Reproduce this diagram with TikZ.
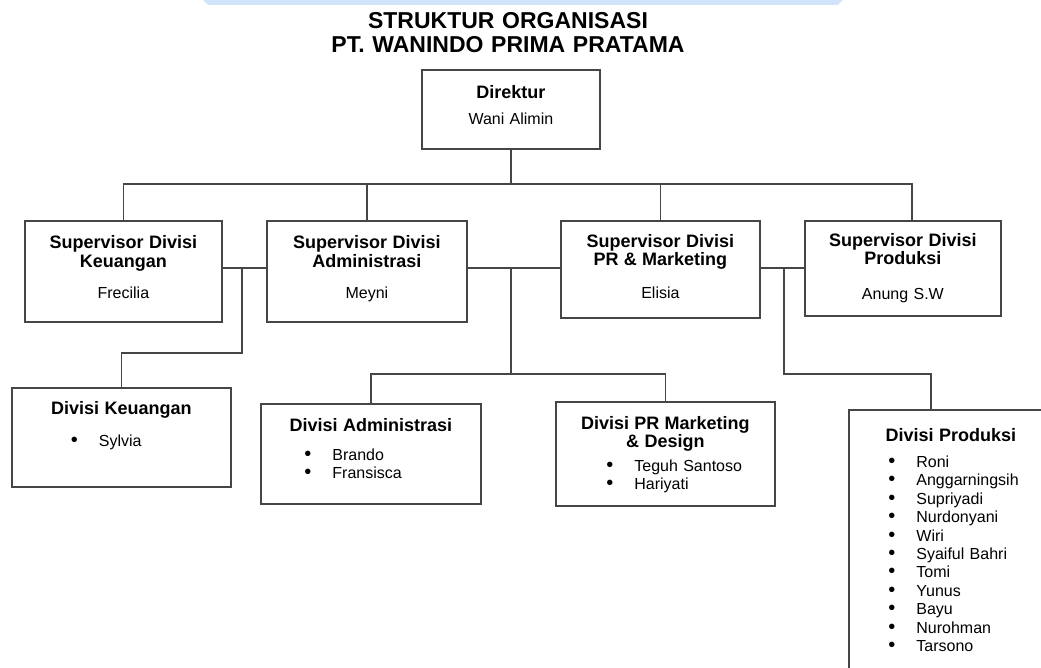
\documentclass[tikz,border=0pt]{standalone}
\usepackage{fontspec}
\setmainfont{Liberation Sans}
\definecolor{garisabu}{RGB}{70,70,70}
\definecolor{pitabiru}{RGB}{210,228,250}
\newcommand{\tebal}{\bfseries\fontsize{9}{9.5}\selectfont}
\newcommand{\butir}[2]{\makebox[\linewidth][l]{\hspace*{#1}\makebox[14pt][l]{\fontsize{10}{9.2}\selectfont\textbullet}#2}}
\tikzset{
  kotak/.style={draw=garisabu,line width=0.9pt,inner sep=0pt,align=center,anchor=north west,font=\fontsize{8}{9.2}\selectfont},
  garis/.style={draw=garisabu,line width=0.9pt},
  judulutama/.style={inner sep=0pt,text width=250pt,align=center,text height=0pt,anchor=north,font=\bfseries\fontsize{11.5}{12}\selectfont}
}
\begin{document}
\begin{tikzpicture}[x=0.5pt,y=-0.5pt]
\useasboundingbox (0,0) rectangle (1041,668);
\clip (0,0) rectangle (1041,668);
\fill[pitabiru] (203,0) -- (843,0) -- (838,5) -- (208,5) -- cycle;

% judul
\node[judulutama] (judul) at (508,28) {STRUKTUR ORGANISASI\\PT. WANINDO PRIMA PRATAMA};

% direktur dan supervisor
\node[kotak,text width=89pt,text height=14.5pt,text depth=25pt] (dir) at (421,69) {{\tebal Direktur}\\[3.8pt]Wani Alimin};
\node[kotak,text width=98.5pt,text height=14pt,text depth=36.5pt] (sk) at (24,220) {{\tebal Supervisor Divisi\\Keuangan}\\[6.6pt]Frecilia};
\node[kotak,text width=100pt,text height=14pt,text depth=36.5pt] (sa) at (266,220) {{\tebal Supervisor Divisi\\Administrasi}\\[6.6pt]Meyni};
\node[kotak,text width=99.5pt,text height=13.25pt,text depth=35.25pt] (spr) at (560,220) {{\tebal Supervisor Divisi\\PR \& Marketing}\\[7.3pt]Elisia};
\node[kotak,text width=98pt,text height=12.75pt,text depth=34.75pt] (sp) at (804,220) {{\tebal Supervisor Divisi\\Produksi}\\[8pt]Anung S.W};

% divisi
\node[kotak,text width=109.5pt,text height=13.5pt,text depth=36pt] (dk) at (11,387) {{\tebal Divisi Keuangan}\\[6.8pt]\butir{29.5pt}{Sylvia}};
\node[kotak,text width=110pt,text height=14pt,text depth=36pt] (da) at (260,403) {{\tebal Divisi Administrasi}\\[5pt]\butir{21.75pt}{Brando}\\\butir{21.75pt}{Fransisca}};
\node[kotak,text width=109.5pt,text height=13.85pt,text depth=38.15pt] (dpr) at (555,401) {{\tebal Divisi PR Marketing\\\& Design}\\[2.5pt]\butir{25.25pt}{Teguh Santoso}\\\butir{25.25pt}{Hariyati}};
\node[kotak,text width=102pt,text height=15.85pt,text depth=130pt] (dp) at (848,409) {{\tebal Divisi Produksi}\\[3.8pt]%
  \butir{19.75pt}{Roni}\\\butir{19.75pt}{Anggarningsih}\\\butir{19.75pt}{Supriyadi}\\%
  \butir{19.75pt}{Nurdonyani}\\\butir{19.75pt}{Wiri}\\\butir{19.75pt}{Syaiful Bahri}\\%
  \butir{19.75pt}{Tomi}\\\butir{19.75pt}{Yunus}\\\butir{19.75pt}{Bayu}\\%
  \butir{19.75pt}{Nurohman}\\\butir{19.75pt}{Tarsono}};

% garis
\coordinate (atas) at (0,184);
\coordinate (tengah) at (0,268);
\coordinate (yk) at (0,353);
\coordinate (yb) at (0,374);
\coordinate (jk) at (242,268);
\coordinate (ja) at (dir.south |- tengah);
\coordinate (jp) at (784,268);
\coordinate (masuksp) at ([xshift=4.5pt]sp.north);
\coordinate (masukp) at ([xshift=-10pt]dp.north);
\draw[garis] (dir.south) -- (dir.south |- atas);
\draw[garis] (sk.north) |- (masuksp |- atas) -- (masuksp);
\draw[garis] (sa.north) -- (sa.north |- atas);
\draw[garis] (spr.north) -- (spr.north |- atas);
\draw[garis] (sk.east |- tengah) -- (sa.west |- tengah);
\draw[garis] (sa.east |- tengah) -- (spr.west |- tengah);
\draw[garis] (spr.east |- tengah) -- (sp.west |- tengah);
\draw[garis] (jk) |- (dk.north |- yk) -- (dk.north);
\draw[garis] (ja) -- (ja |- yb);
\draw[garis] (da.north) |- (dpr.north |- yb) -- (dpr.north);
\draw[garis] (jp) |- (masukp |- yb) -- (masukp);
\end{tikzpicture}
\end{document}
